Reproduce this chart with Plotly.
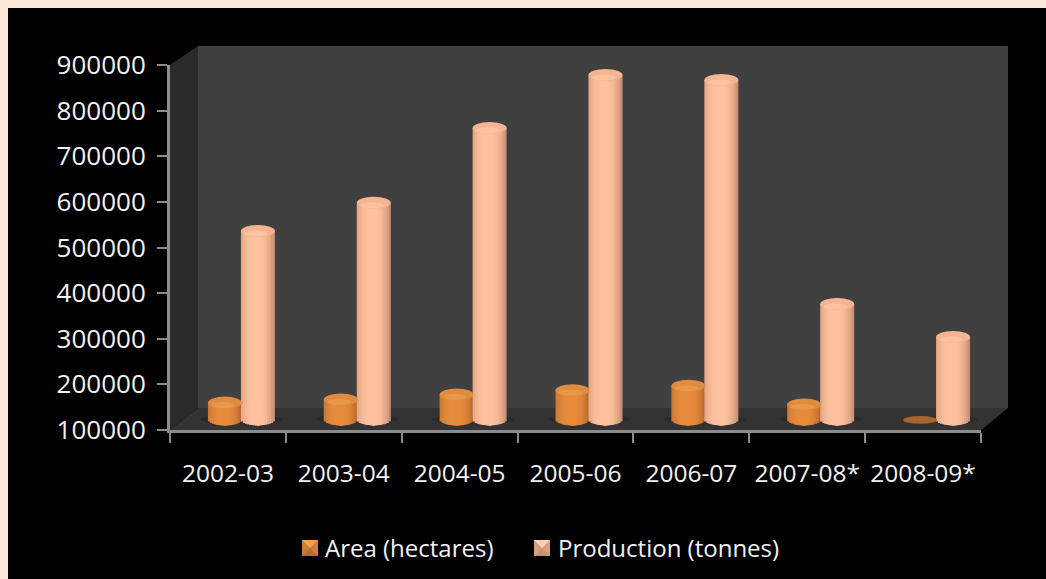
import math
import plotly.graph_objects as go

categories = ["2002-03", "2003-04", "2004-05", "2005-06", "2006-07", "2007-08*", "2008-09*"]
area_hectares = [160000, 167000, 178000, 187000, 197000, 156000, 122000]
production_tonnes = [536000, 598000, 762000, 878000, 867000, 376000, 304000]
floor_value = 123000
y_ticks = [100000, 200000, 300000, 400000, 500000, 600000, 700000, 800000, 900000]

L, R, T, B = 170, 981, 65, 430
W, H = 1046, 579
Y_PER_PX = 100000 / 45.6
X_PER_PX = 1 / 115.86
HALF_W = 17 * X_PER_PX
RY = 6 * Y_PER_PX
N = 17


def px(x):
    return (x - L) / (R - L)


def py(y):
    return (B - y) / (B - T)


def poly(points):
    return "M" + " L".join(f"{px(a):.5f},{py(b):.5f}" for a, b in points) + " Z"


def mix(a, b, f):
    return tuple(a[i] + (b[i] - a[i]) * f for i in range(3))


def shade(t, mid, left, right):
    peak = -0.1
    if t < peak:
        f = ((peak - t) / (1 + peak)) ** 2.6
        c = mix(mid, left, f)
    else:
        f = ((t - peak) / (1 - peak)) ** 2.6
        c = mix(mid, right, f)
    return "rgb(%d,%d,%d)" % c


fig = go.Figure()
series = [
    ("Area (hectares)", area_hectares, -20 * X_PER_PX + HALF_W, (232, 140, 60), (200, 120, 50), (176, 100, 40),
     "#e08b3e", "#eb9c50", "legend"),
    ("Production (tonnes)", production_tonnes, 30 * X_PER_PX, (255, 194, 158), (226, 164, 132), (190, 138, 110),
     "#f5b593", "#fcc6a5", "legend2"),
]

shapes = [
    dict(type="rect", xref="paper", yref="paper", x0=px(8), x1=px(W), y0=py(H), y1=py(8),
         fillcolor="#000000", line_width=0, layer="below"),
    dict(type="path", xref="paper", yref="paper", path=poly([(198, 46), (1008, 46), (1008, 408), (198, 408)]),
         fillcolor="#404040", line_width=0, layer="below"),
    dict(type="path", xref="paper", yref="paper", path=poly([(170, 65), (198, 46), (198, 408), (170, 430)]),
         fillcolor="#2a2a2a", line_width=0, layer="below"),
    dict(type="path", xref="paper", yref="paper", path=poly([(170, 430), (198, 408), (1008, 408), (981, 430)]),
         fillcolor="#333333", line_width=0, layer="below"),
]

for name, values, center, mid, left, right, cap, glow, lg in series:
    for i in range(len(categories)):
        if values[i] > floor_value:
            shapes.append(dict(type="circle", xref="x", yref="y", layer="below",
                               x0=i + center - HALF_W * 1.45, x1=i + center + HALF_W * 1.45,
                               y0=floor_value - RY * 0.7, y1=floor_value + RY * 0.7,
                               fillcolor="rgba(0,0,0,0.16)", line_width=0))

for name, values, center, mid, left, right, cap, glow, lg in series:
    strip = 2 * HALF_W / N
    # Paint from the outer edges inwards, each strip reaching the axis of the cylinder, so no seams show.
    order = sorted(range(N), key=lambda k: -abs((k + 0.5) / N * 2 - 1))
    for k in order:
        t = (k + 0.5) / N * 2 - 1
        drop = RY * math.sqrt(max(0, 1 - t * t))
        base = [floor_value - drop] * len(values)
        if t < 0:
            off = center - HALF_W + k * strip
            wid = center - off + strip / 2
        else:
            off = center - strip / 2
            wid = center - HALF_W + (k + 1) * strip - off
        # A value at floor level has no visible wall, only a flat disc.
        heights = [v - b if v > floor_value else 0 for v, b in zip(values, base)]
        fig.add_trace(go.Bar(
            x=categories, y=heights, base=base,
            offset=off, width=wid,
            marker=dict(color=shade(t, mid, left, right), line_width=0),
            showlegend=False, hoverinfo="skip"))
    for i, v in enumerate(values):
        flat = v <= floor_value
        shapes.append(dict(type="circle", xref="x", yref="y", layer="above",
                           x0=i + center - HALF_W, x1=i + center + HALF_W,
                           y0=v - RY * (0.65 if flat else 1), y1=v + RY * (0.65 if flat else 1),
                           fillcolor="#a8642a" if flat else cap, line_width=0))
        if not flat:
            shapes.append(dict(type="circle", xref="x", yref="y", layer="above",
                               x0=i + center - HALF_W * 0.8, x1=i + center + HALF_W * 0.6,
                               y0=v - RY * 0.9, y1=v + RY * 0.1, fillcolor=glow, line_width=0, opacity=0.75))
    fig.add_trace(go.Scatter(
        x=[None], y=[None], mode="markers", name=name, legend=lg,
        marker=dict(symbol="square", size=15, color="rgba(0,0,0,0)", line_width=0)))


def swatch(x0, y0, size, side, dark, top):
    cx, cy = x0 + size / 2, y0 + size / 2
    corners = [(x0, y0), (x0 + size, y0), (x0 + size, y0 + size), (x0, y0 + size)]
    out = [dict(type="path", xref="paper", yref="paper", layer="above", path=poly(corners),
                fillcolor=side, line_width=0)]
    out.append(dict(type="path", xref="paper", yref="paper", layer="above",
                    path=poly([corners[0], corners[1], (cx, cy)]), fillcolor=top, line_width=0))
    out.append(dict(type="path", xref="paper", yref="paper", layer="above",
                    path=poly([corners[2], corners[3], (cx, cy)]), fillcolor=dark, line_width=0))
    return out


shapes += swatch(302, 540, 16, "#c9803a", "#b5702f", "#f0a24f")
shapes += swatch(534, 540, 16, "#dba080", "#c9927a", "#fbd0b4")

legend_common = dict(orientation="h", y=py(548), xanchor="left", yanchor="middle",
                     font=dict(size=24, color="#f2f2f2"), bgcolor="rgba(0,0,0,0)",
                     itemsizing="constant")

fig.update_layout(
    width=W, height=H, autosize=False,
    template="none",
    barmode="overlay",
    paper_bgcolor="#fde9da",
    plot_bgcolor="rgba(0,0,0,0)",
    margin=dict(l=L, r=W - R, t=T, b=H - B, pad=0, autoexpand=False),
    font=dict(family="Open Sans", color="#f2f2f2", size=24),
    shapes=shapes,
    hovermode=False,
    legend=dict(x=px(285), **legend_common),
    legend2=dict(x=px(518), **legend_common),
    xaxis=dict(type="category", categoryorder="array", categoryarray=categories,
               range=[-0.5, 6.5], tickson="boundaries", ticks="outside", ticklen=10, tickwidth=2,
               tickcolor="#8c8c8c", showline=True, linecolor="#8c8c8c", linewidth=3, showgrid=False,
               zeroline=False, automargin=False, ticklabelstandoff=20, tickangle=0, tickfont=dict(size=24.5)),
    yaxis=dict(range=[100000, 900000], tickvals=y_ticks, ticktext=[str(v) for v in y_ticks],
               ticks="outside", ticklen=10, tickwidth=2, tickcolor="#8c8c8c", showline=True,
               linecolor="#8c8c8c", linewidth=3, showgrid=False, zeroline=False, automargin=False,
               ticklabelstandoff=6, tickfont=dict(size=26)),
)

fig.write_html("out.html", config=dict(displayModeBar=False), default_width=W, default_height=H,
               post_script="document.body.style.margin='0';document.body.style.overflow='hidden';")
